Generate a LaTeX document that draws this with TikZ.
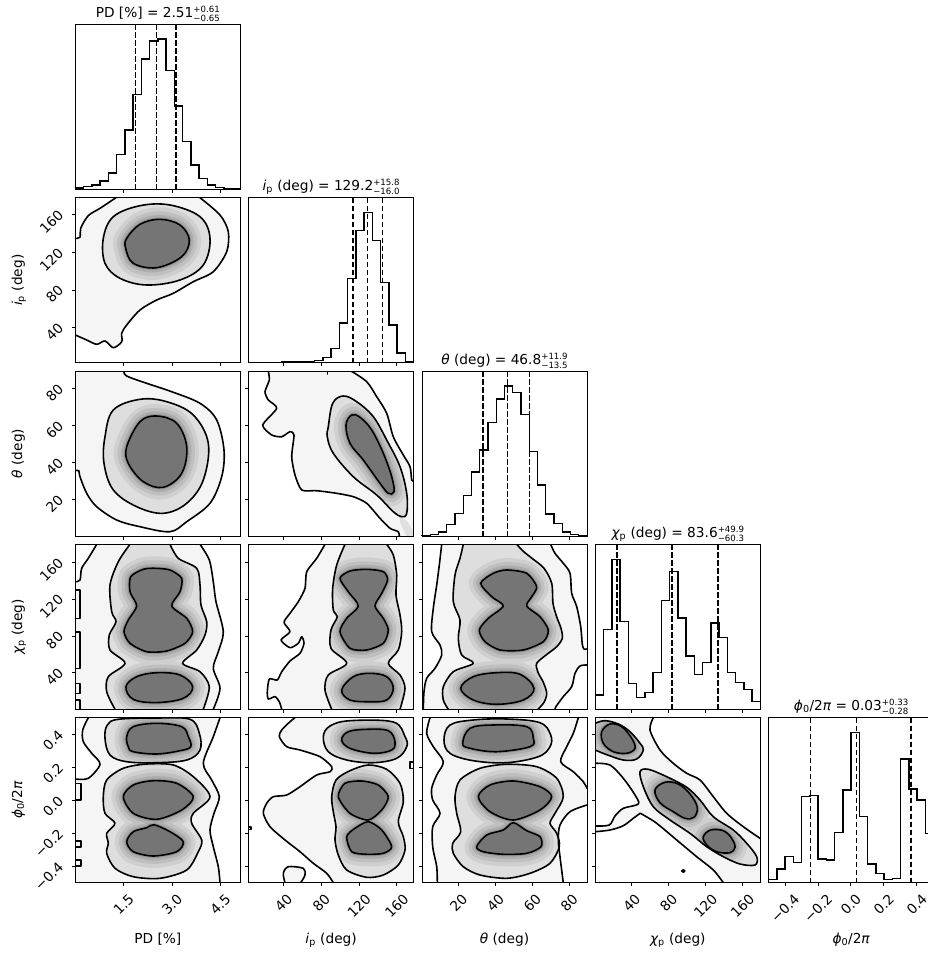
\documentclass[tikz,border=0pt]{standalone}
\usepackage{fontspec}
\setmainfont{DejaVu Sans}
\usepackage{graphicx}
\tikzset{
 cnt/.style={draw=black, line width=1.6pt, line join=round, line cap=round},
 frm/.style={draw=black, line width=1.0pt},
 hst/.style={draw=black, line width=1.4pt},
 dsh/.style={draw=black, line width=1.6pt, dash pattern=on 5.5pt off 2.5pt},
 tck/.style={draw=black, line width=1.0pt},
 lvA/.style={fill=black!4}, lvB/.style={fill=black!13}, lvC/.style={fill=black!54},
 h1/.style={draw=black!19, line width=24pt, line join=round},
 h2/.style={draw=black!25, line width=16pt, line join=round},
 h3/.style={draw=black!32, line width=9pt, line join=round},
 h4/.style={draw=black!41, line width=4pt, line join=round},
}
\newcommand\xt[1]{\foreach \t in #1 {\draw[tck] (\t,165) -- (\t,168.5);}}
\newcommand\yt[1]{\foreach \t in #1 {\draw[tck] (0,{165-\t}) -- (-3.5,{165-\t});}}
\newcommand\pframe{\draw[frm] (0,0) rectangle (165,165);}
\newcommand\hist[1]{\draw[hst] (0,165) \foreach \hh [count=\kk from 0] in {#1} { -- ({\kk*8.25},{165*(1-\hh)}) -- ({(\kk+1)*8.25},{165*(1-\hh)}) } -- (165,165);}
\newcommand\dlines[1]{\foreach \t in {#1} {\draw[dsh] (\t,0) -- (\t,165);}}
\newcommand\pmst[2]{\raisebox{-4.2pt}{\fontsize{8.6}{9}\selectfont\begin{tabular}[b]{@{}l@{}}#1\\#2\end{tabular}}}
\newcommand\dens[3]{%
 \begin{scope}\clip #1; \draw[h1] #2; \draw[h2] #2; \draw[h3] #2; \draw[h4] #2; \end{scope}
 \fill[lvC] #2;}
\newcommand\joinLR{\edef\mReg{\unexpanded\expandafter{\mL} -- \unexpanded\expandafter{\mR} -- cycle}}
\begin{document}
\begin{tikzpicture}[x=1pt,y=-1pt,every node/.style={font=\fontsize{13.7}{16}\selectfont}]
\useasboundingbox (0,0) rectangle (928,953);
\fill[white] (0,0) rectangle (928,953);
\def\PDt{48.3,96.7,145.0}
\def\IPt{35.0,72.7,110.4,148.1}
\def\THt{36.5,73.4,110.3,147.2}
\def\CHt{36.4,73.3,110.2,147.1}
\def\PHt{16.5,49.4,82.3,115.2,148.1}

% ---------------- diagonal histograms
\begin{scope}[shift={(75.3,24.3)}]
 \hist{.008,.016,.026,.05,.10,.21,.36,.575,.79,.90,.91,.72,.505,.29,.147,.066,.026,.01,.006,.004}
 \dlines{60,81,100.7}
 \pframe \xt\PDt
 \node[anchor=base] (t0) at (82.5,-7) {PD [\%] = 2.51\pmst{+0.61}{−0.65}};
\end{scope}
\begin{scope}[shift={(248.6,197.7)}]
 \hist{.002,.002,.002,.003,.004,.005,.006,.008,.012,.032,.087,.24,.51,.80,.91,.74,.485,.228,.059,.008}
 \dlines{104.1,118.7,133.7}
 \pframe \xt\IPt
 \node[anchor=base] (t1) at (82.5,-7) {{\itshape i}\textsubscript{p} (deg) = 129.2\pmst{+15.8}{−16.0}};
\end{scope}
\begin{scope}[shift={(422.0,371.0)}]
 \hist{.004,.01,.024,.071,.138,.245,.387,.522,.688,.83,.91,.87,.735,.512,.31,.134,.075,.024,.008,.004}
 \dlines{60.7,85.3,107.3}
 \pframe \xt\THt
 \node[anchor=base] (t2) at (82.5,-7) {{\itshape θ} (deg) = 46.8\pmst{+11.9}{−13.5}};
\end{scope}
\begin{scope}[shift={(595.3,544.3)}]
 \hist{.087,.482,.907,.532,.155,.071,.101,.222,.659,.835,.554,.323,.212,.282,.524,.437,.222,.161,.121,.048}
 \dlines{21.4,76.7,122.4}
 \pframe \xt\CHt
 \node[anchor=base] (t3) at (82.5,-7) {{\itshape χ}\textsubscript{p} (deg) = 83.6\pmst{+49.9}{−60.3}};
\end{scope}
\begin{scope}[shift={(768.6,717.7)}]
 \hist{.02,.083,.16,.123,.521,.529,.143,.137,.303,.561,.909,.4,.113,.057,.02,.024,.75,.568,.501,.3}
 \dlines{41.7,87.7,142.1}
 \pframe \xt\PHt
 \node[anchor=base] (t4) at (82.5,-7) {{\itshape ϕ}\textsubscript{0}/2{\itshape π} = 0.03\pmst{+0.33}{−0.28}};
 \foreach \t/\l [count=\n] in {16.5/−0.4,49.4/−0.2,82.3/0.0,115.2/0.2,148.1/0.4}
  \node[inner sep=0pt, anchor=north] (x4\n) at (\t,175.3) {\rotatebox{45}{\l}};
\end{scope}

% ---------------- row 1 : i_p vs PD
\begin{scope}[shift={(75.3,197.7)}]
 \def\oA{plot[smooth,tension=.55] coordinates {(40.7,0) (24.7,10.6) (13,18) (5.4,30.6) (4.7,39.5) (0,40.6)}}
 \def\oB{plot[smooth,tension=.5] coordinates {(124.7,0) (144.7,17.3) (153,34) (151.4,54) (138,74) (118,84) (98,95.6) (81.4,102.3) (64.7,112.3) (51.4,127.3) (46.4,135.6) (46.4,144) (38,150) (29.7,143.3) (21.4,146.6) (11.4,142.3) (0,137.3)}}
 \def\mA{plot[smooth cycle,tension=.6] coordinates {(28,40.6) (38,19) (64.7,8) (94.7,7.3) (124.7,19) (134.7,40.6) (128,67.3) (104.7,82.3) (71.4,87.3) (44.7,80.6) (29.7,65.6)}}
 \def\iA{plot[smooth cycle,tension=.6] coordinates {(51.4,40.6) (64.7,26.6) (84.7,21.6) (104.7,27.3) (114,42.3) (106.4,59) (81.4,70) (58,65.6) (50.4,50.6)}}
 \begin{scope}
  \clip (0,0) rectangle (165,165);
  \fill[lvA] (0,0) rectangle (165,165);
  \fill[white] \oA -- (0,0) -- cycle;
  \fill[white] \oB -- (0,165) -- (165,165) -- (165,0) -- cycle;
  \fill[lvB] \mA;
  \dens{\mA}{\iA}{}
  \draw[cnt] \oA; \draw[cnt] \oB; \draw[cnt] \mA; \draw[cnt] \iA;
 \end{scope}
 \pframe \xt\PDt \yt\IPt
 \foreach \t/\l [count=\n] in {35.0/40,72.7/80,110.4/120,148.1/160}
  \node[inner sep=0pt, rotate=45, anchor=east] (y1\n) at (-14.5,{163-\t}) {\l};
\end{scope}

% ---------------- row 2
\begin{scope}[shift={(75.3,371.0)}]
 \def\oA{plot[smooth,tension=.55] coordinates {(48.7,0) (51.4,5) (71.4,12.3) (96.4,20.7) (124.7,32.3) (141.4,49) (148.7,79) (146.4,105.7) (134.7,132.3) (111.4,150.7) (94.7,160.7) (64.7,155.7) (41.4,149) (21.4,135.7) (11.4,122.3) (4.7,105.7) (3.5,99.7) (0,99.7)}}
 \def\mA{plot[smooth cycle,tension=.6] coordinates {(29.7,65.7) (38,39) (64.7,28.3) (91.4,30.7) (118,44) (133,72.3) (128,109) (111.4,132.3) (88,142.3) (61.4,135.7) (38,119) (28.7,92.3)}}
 \def\iA{plot[smooth cycle,tension=.6] coordinates {(51.4,75.7) (64.7,50.7) (81.4,45) (101.4,52.3) (111.4,75.7) (106.4,102.3) (88,116.3) (68,110.7) (53,92.3)}}
 \begin{scope}
  \clip (0,0) rectangle (165,165);
  \fill[lvA] (0,0) rectangle (165,165);
  \fill[white] \oA -- (0,165) -- (165,165) -- (165,0) -- cycle;
  \fill[lvB] \mA;
  \dens{\mA}{\iA}{}
  \draw[cnt] \oA; \draw[cnt] \mA; \draw[cnt] \iA;
 \end{scope}
 \pframe \xt\PDt \yt\THt
 \foreach \t/\l [count=\n] in {36.5/20,73.4/40,110.3/60,147.2/80}
  \node[inner sep=0pt, rotate=45, anchor=east] (y2\n) at (-14.5,{163-\t}) {\l};
\end{scope}
\begin{scope}[shift={(248.6,371.0)}]
 \def\oA{plot[smooth,tension=.4] coordinates {(19.7,0) (20.7,9) (16.4,20.7) (19.7,29) (28.1,37.3) (14.1,54) (23.1,64) (33.1,65.7) (41.4,60.7) (45.4,64) (43.1,85.7) (46.4,104) (53.1,119) (68.1,119.7) (88.1,122.3) (104.7,125.7) (118.1,132.3) (131.4,147.3) (141.4,157.3) (149.7,160.7) (150.7,165)}}
 \def\oB{plot[smooth,tension=.5] coordinates {(102.4,0) (118.1,10.7) (128.1,25.7) (138.1,42.3) (144.7,65.7) (154.7,84) (161.4,95.7) (163.1,109) (165,109.7)}}
 \def\mA{plot[smooth cycle,tension=.6] coordinates {(79.7,55.7) (84.1,32.3) (94.7,25) (108.1,30.7) (124.7,45.7) (138.1,69) (151.4,95.7) (158.1,122.3) (158.1,142.3) (153.1,145.7) (144.7,140.7) (128.1,124) (104.7,105.7) (84.7,82.3) (78.7,65.7)}}
 \def\iA{plot[smooth cycle,tension=.6] coordinates {(97.4,54) (103.1,44) (111.4,46.3) (123.1,59) (134.7,82.3) (143.1,105.7) (145.4,120.7) (139.7,122.3) (131.4,112.3) (114.7,89) (101.4,72.3)}}
 \begin{scope}
  \clip (0,0) rectangle (165,165);
  \fill[lvA] (0,0) rectangle (165,165);
  \fill[white] \oA -- (0,165) -- (0,0) -- cycle;
  \fill[white] \oB -- (165,0) -- cycle;
  \fill[black!12] (150,143) -- (160,152) -- (165,161) -- (165,165) -- (158,165) -- (152,153) -- cycle;
  \fill[lvB] \mA;
  \dens{\mA}{\iA}{}
  \draw[cnt] \oA; \draw[cnt] \oB; \draw[cnt] \mA; \draw[cnt] \iA;
  \draw[cnt] (78.7,0) -- (78.7,3);
 \end{scope}
 \pframe \xt\IPt \yt\THt
\end{scope}

% ---------------- row 3
\begin{scope}[shift={(75.3,544.3)}]
 \def\oA{plot[smooth,tension=.55] coordinates {(21.4,0) (13,14) (6.4,24) (4.7,35.7) (0,37.4)}}
 \def\oB{plot[smooth,tension=.5] coordinates {(124.7,0) (134,15.7) (138,37.4) (140.7,57.4) (148,87.4) (143,107.4) (138,124) (144.7,144) (138,165)}}
 \def\mL{plot[smooth,tension=.5] coordinates {(54.7,0) (43,17.4) (34.7,40.7) (36.4,67.4) (40.7,77.4) (34,90.7) (34.7,105.7) (49.7,119) (33,132.4) (31.4,147.4) (39.7,165)}}
 \def\mR{plot[smooth,tension=.5] coordinates {(128,165) (134,142.4) (124.7,127.4) (107.4,119) (121.4,105.7) (129.7,90.7) (131.4,77.4) (125.7,60.7) (124.7,40.7) (121.4,24) (103,14) (94.7,0)}}
 \joinLR
 \def\iA{plot[smooth cycle,tension=.45] coordinates {(55.4,32.4) (68,25) (79.7,24) (94.7,25.7) (106.4,34) (104.7,47.4) (96.4,61.7) (111.4,74) (117.4,87.4) (109.7,99) (91.4,106.7) (71.4,107.4) (54.7,99) (48.7,87.4) (53,75.7) (61.4,61.7) (54.7,47.4)}}
 \def\iB{plot[smooth cycle,tension=.6] coordinates {(50.7,142.4) (61.4,132.4) (81.4,128.4) (104.7,130.7) (117.4,142.4) (108,154) (81.4,158.3) (58,155)}}
 \begin{scope}
  \clip (0,0) rectangle (165,165);
  \fill[lvA] (0,0) rectangle (165,165);
  \fill[white] \oA -- (0,0) -- cycle;
  \fill[white] \oB -- (165,165) -- (165,0) -- cycle;
  \fill[lvB] \mReg;
  \dens{\mReg}{\iA \iB}{}
  \draw[cnt] \oA; \draw[cnt] \oB; \draw[cnt] \mL; \draw[cnt] \mR; \draw[cnt] \iA; \draw[cnt] \iB;
  \draw[cnt] (0,45.7) -- (4.7,45.7) -- (4.7,74) -- (0,74);
  \draw[cnt] (0,87.4) -- (4.7,87.4) -- (4.7,124) -- (0,124);
  \draw[cnt] (0,139) -- (4.7,139) -- (4.7,149) -- (0,149);
  \draw[cnt] (0,155.7) -- (4.7,155.7) -- (4.7,165);
 \end{scope}
 \pframe \xt\PDt \yt\CHt
 \foreach \t/\l [count=\n] in {36.4/40,73.3/80,110.2/120,147.1/160}
  \node[inner sep=0pt, rotate=45, anchor=east] (y3\n) at (-14.5,{163-\t}) {\l};
\end{scope}
\begin{scope}[shift={(248.6,544.3)}]
 \def\oA{plot[smooth,tension=.4] coordinates {(76.4,0) (68.1,14) (58.1,27.4) (56.4,44) (49.7,57.4) (41.4,69) (35.4,78) (41.4,87.4) (32.4,95.7) (41.4,103.4) (49.7,99) (53.1,92.4) (55.4,99) (51.4,109) (41.4,116.7) (33.1,127.4) (28.7,135.7) (20.7,134.7) (18.7,147.4) (19.7,154.7) (26.4,152.4) (30.7,157.4) (33.1,165)}}
 \def\mL{plot[smooth,tension=.5] coordinates {(96.4,0) (88.1,20.7) (84.1,44) (84.7,65.7) (88.7,72.4) (82.4,85.7) (82.4,104) (98.1,119) (79.7,130.7) (76.4,145.7) (83.1,165)}}
 \def\mR{plot[smooth,tension=.5] coordinates {(151.4,165) (156.4,144) (151.4,130.7) (139.7,119) (149.7,105.7) (153.1,87.4) (151.4,70.7) (147.4,50.7) (148.1,30.7) (144.7,10.7) (138.1,0)}}
 \joinLR
 \def\iA{plot[smooth cycle,tension=.45] coordinates {(91.4,34) (101.4,26.7) (118.1,25) (134.7,27.4) (139,35.7) (133.1,49) (126.4,61.7) (134.7,74) (139.7,85.7) (134.7,99) (118.1,105.7) (101.4,104) (91.4,87.4) (98.1,74) (109.7,61.7) (99.7,47.4)}}
 \def\iB{plot[smooth cycle,tension=.6] coordinates {(93.1,145.7) (104.7,132.4) (121.4,129) (138.1,132.4) (144.7,144) (138.1,155.7) (121.4,157.4) (101.4,155.7)}}
 \begin{scope}
  \clip (0,0) rectangle (165,165);
  \fill[lvA] (0,0) rectangle (165,165);
  \fill[white] \oA -- (0,165) -- (0,0) -- cycle;
  \fill[lvB] \mReg;
  \dens{\mReg}{\iA \iB}{}
  \draw[cnt] \oA; \draw[cnt] \mL; \draw[cnt] \mR; \draw[cnt] \iA; \draw[cnt] \iB;
 \end{scope}
 \pframe \xt\IPt \yt\CHt
\end{scope}
\begin{scope}[shift={(422.0,544.3)}]
 \def\oA{plot[smooth,tension=.5] coordinates {(19.7,0) (17.3,20.7) (14.7,40.7) (11.3,64) (9.7,87.4) (18,100.7) (19.7,110.7) (13,124) (4.7,134) (2,147.4) (1.3,165)}}
 \def\oB{plot[smooth,tension=.5] coordinates {(128.7,0) (133,9) (141.3,19) (148,29) (149.7,49) (154.7,62.3) (158.7,82.3) (160.3,100) (162,104.7) (165,104.7)}}
 \def\oC{plot[smooth,tension=.5] coordinates {(165,120.7) (158,121.7) (153,129) (149.7,142.3) (141.3,152.3) (134,162.3) (133,165)}}
 \def\mL{plot[smooth,tension=.5] coordinates {(41.3,0) (38,14) (33,30.7) (31.3,57.4) (38,75.7) (36.3,94) (39.7,110.7) (51.3,119) (31.3,127.4) (21.3,142.4) (21.3,155.7) (26.3,165)}}
 \def\mR{plot[smooth,tension=.5] coordinates {(116,165) (122,158) (124.7,149) (121.3,138) (116,128) (114.7,119) (125,110) (134.7,102.4) (140.3,94) (139,84) (134.5,72) (131,59) (129.7,39) (122,24) (110,14) (101.3,7) (94.7,0)}}
 \joinLR
 \def\iA{plot[smooth cycle,tension=.45] coordinates {(58.7,39) (71.3,29) (84.7,25.7) (104.7,29) (114.7,42.4) (109.7,52.4) (104.7,61.7) (118,72.4) (126.3,85.7) (121.3,97.4) (101.3,105.7) (78,105.7) (63,97.4) (57.3,85.7) (66.3,74) (81.3,61.7) (69.7,52.4)}}
 \def\iB{plot[smooth cycle,tension=.6] coordinates {(38.7,144) (51.3,132.4) (74.7,128.4) (98,130) (112,144) (101.3,155.7) (74.7,160) (51.3,155.7)}}
 \begin{scope}
  \clip (0,0) rectangle (165,165);
  \fill[lvA] (0,0) rectangle (165,165);
  \fill[white] \oA -- (0,165) -- (0,0) -- cycle;
  \fill[white] \oB -- (165,0) -- cycle;
  \fill[white] \oC -- (165,165) -- cycle;
  \fill[lvB] \mReg;
  \dens{\mReg}{\iA \iB}{}
  \draw[cnt] \oA; \draw[cnt] \oB; \draw[cnt] \oC; \draw[cnt] \mL; \draw[cnt] \mR; \draw[cnt] \iA; \draw[cnt] \iB;
 \end{scope}
 \pframe \xt\THt \yt\CHt
\end{scope}

% ---------------- row 4
\begin{scope}[shift={(75.3,717.7)}]
 \def\oA{plot[smooth,tension=.5] coordinates {(13,0) (7.4,12.3) (8,24) (16.4,35.6) (24.7,46.6) (13,60.6) (0,61.3)}}
 \def\oB{plot[smooth,tension=.5] coordinates {(144.7,0) (138,19) (128,45.6) (136.4,62.3) (144,79) (138.7,95.6) (134.7,112.3) (138,129) (143,149) (144.7,165)}}
 \def\mA{plot[smooth cycle,tension=.6] coordinates {(29.7,20.6) (32,7.3) (43,1.6) (81.4,0.3) (114.7,1.6) (124,15.6) (124.7,32.3) (111.4,42.3) (81.4,45) (51.4,44) (34.7,37.3)}}
 \def\mB{plot[smooth cycle,tension=.5] coordinates {(28,79) (31.4,62.3) (48,50.6) (71.4,46.3) (98,47.3) (118,59) (134.7,79) (118,95.6) (116.4,105.6) (126.4,122.3) (123,134) (111.4,152.3) (84.7,160.6) (58,159) (39.7,150.6) (31.4,135.6) (33,125.6) (31.4,115.6) (39.7,105.6) (29.7,95.6)}}
 \def\iA{plot[smooth cycle,tension=.6] coordinates {(51.4,19) (58,9) (81.4,5.6) (106.4,9) (113,19) (115.4,29) (104.7,33) (81.4,36.3) (58,34) (53,29)}}
 \def\iB{plot[smooth cycle,tension=.5] coordinates {(48,79) (58,67.3) (78,63) (101.4,65.6) (118,79) (106.4,92.3) (81.4,101.6) (58,95.6)}}
 \def\iC{plot[smooth cycle,tension=.5] coordinates {(51.4,124) (58,114) (71.4,110) (78.7,107) (94.7,114) (108,124) (101.4,134) (78,138.3) (58,134)}}
 \begin{scope}
  \clip (0,0) rectangle (165,165);
  \fill[lvA] (0,0) rectangle (165,165);
  \fill[white] \oA -- (0,0) -- cycle;
  \fill[white] \oB -- (165,165) -- (165,0) -- cycle;
  \fill[lvB] \mA \mB;
  \dens{\mA \mB}{\iA \iB \iC}{}
  \draw[cnt] \oA; \draw[cnt] \oB; \draw[cnt] \mA; \draw[cnt] \mB; \draw[cnt] \iA; \draw[cnt] \iB; \draw[cnt] \iC;
  \draw[cnt] (0,65.6) -- (5.4,65.6) -- (5.4,82.3) -- (0,82.3);
  \draw[cnt] (0,123) -- (5.4,123) -- (5.4,129) -- (0,129);
  \draw[cnt] (0,142.3) -- (5.4,142.3) -- (5.4,148) -- (0,148);
 \end{scope}
 \pframe \xt\PDt \yt\PHt
 \foreach \t/\l [count=\n] in {16.5/−0.4,49.4/−0.2,82.3/0.0,115.2/0.2,148.1/0.4}
  \node[inner sep=0pt, rotate=45, anchor=east] (y4\n) at (-14.5,{163-\t}) {\l};
 \foreach \t/\l [count=\n] in {48.3/1.5,96.7/3.0,145.0/4.5}
  \node[inner sep=0pt, anchor=north] (x0\n) at (\t,175.3) {\rotatebox{45}{\l}};
\end{scope}
\begin{scope}[shift={(248.6,717.7)}]
 \def\oA{plot[smooth,tension=.45] coordinates {(46.4,0) (41.4,4) (33.1,12.3) (30.7,19) (38.1,29) (51.4,32.3) (71.4,39) (83.1,49) (81.4,54) (68.1,57.3) (51.4,69) (38.1,77.3) (24.7,79) (18.1,85.6) (14.7,95.6) (21.4,109) (36.4,122.3) (51.4,134) (64.7,145.6) (78.1,155.6) (84.7,165)}}
 \def\oC{plot[smooth,tension=.5] coordinates {(36.4,165) (34.7,155.6) (39.7,149) (54.7,150.6) (56.4,157.3) (52.1,165)}}
 \def\mA{plot[smooth cycle,tension=.6] coordinates {(74.7,19) (81.4,8.3) (101.4,3) (144.7,4.3) (156.4,19) (158.1,29) (148.1,40.6) (124.7,45) (98.1,42.3) (79.7,34)}}
 \def\mB{plot[smooth cycle,tension=.5] coordinates {(83.1,79) (87.4,62.3) (101.4,53) (119.7,47.3) (138.1,51.6) (151.4,65.6) (154.7,84) (149.7,104) (154.7,119) (156.4,132.3) (149.7,147.3) (134.7,157.3) (118.1,159.6) (98.1,152.3) (89.7,137.3) (86.4,122.3) (87.4,109) (84.7,94)}}
 \def\iA{plot[smooth cycle,tension=.6] coordinates {(93.1,22.3) (99.7,14) (118.1,11.6) (139.7,13) (146.4,24) (143.1,32.3) (124.7,35.6) (101.4,30.6)}}
 \def\iB{plot[smooth cycle,tension=.45] coordinates {(89.7,79) (96.4,65.6) (113.1,63.3) (129.7,67.3) (139.7,79) (133.1,92.3) (119.7,102.3) (101.4,95.6)}}
 \def\iC{plot[smooth cycle,tension=.45] coordinates {(98.1,119) (106.4,110.6) (119.7,104) (133.1,112.3) (143.1,129) (134.7,135.6) (118.1,136.6) (103.1,134)}}
 \begin{scope}
  \clip (0,0) rectangle (165,165);
  \fill[lvA] (0,0) rectangle (165,165);
  \fill[white] \oA -- (0,165) -- (0,0) -- cycle;
  \fill[lvA] \oC -- cycle;
  \fill[lvB] \mA \mB;
  \dens{\mA \mB}{\iA \iB \iC}{}
  \draw[cnt] \oA; \draw[cnt] \oC; \draw[cnt] \mA; \draw[cnt] \mB; \draw[cnt] \iA; \draw[cnt] \iB; \draw[cnt] \iC;
  \draw[cnt] (165,44) -- (161.4,44) -- (161.4,50.6) -- (165,50.6);
  \draw[cnt] (0,109.4) -- (2.6,109.4) -- (2.6,111.8) -- (0,111.8);
 \end{scope}
 \pframe \xt\IPt \yt\PHt
 \foreach \t/\l [count=\n] in {35.0/40,72.7/80,110.4/120,148.1/160}
  \node[inner sep=0pt, anchor=north] (x1\n) at (\t,175.3) {\rotatebox{45}{\l}};
\end{scope}
\begin{scope}[shift={(422.0,717.7)}]
 \def\oA{plot[smooth,tension=.5] coordinates {(8,0) (4.7,15.6) (11.3,29) (21.3,44) (14.7,57.3) (9.7,70.6) (10.7,82.3) (18,95.6) (10.7,109) (10.7,129) (14.7,149) (15.3,165)}}
 \def\oB{plot[smooth,tension=.5] coordinates {(156.3,0) (151.3,15.6) (144.7,29) (138.7,44) (151.3,54) (161.3,64) (165,70.6)}}
 \def\oC{plot[smooth,tension=.5] coordinates {(165,87.3) (148,94) (138,107.3) (136.3,122.3) (138,139) (141.3,165)}}
 \def\mA{plot[smooth cycle,tension=.6] coordinates {(22,22.3) (28,7.3) (51.3,2.3) (84.7,1.3) (118,5) (128.7,17.3) (128,29) (116.3,39) (84.7,45) (51.3,43) (28,35.6)}}
 \def\mB{plot[smooth cycle,tension=.5] coordinates {(33,79) (38,62.3) (58,50.6) (84.7,46.6) (114.7,49) (134.7,60.6) (141.3,79) (133,95.6) (128,105.6) (134.7,115.6) (137.3,129) (128,145.6) (108,155.6) (84.7,160.6) (58,157.3) (41.3,149) (31.3,135.6) (30.7,125.6) (38.7,114) (34.7,95.6)}}
 \def\iA{plot[smooth cycle,tension=.6] coordinates {(40.7,25.6) (48,10.6) (71.3,7.3) (104.7,9) (111.3,20.6) (108,29) (74.7,34) (48,30.6)}}
 \def\iB{plot[smooth cycle,tension=.5] coordinates {(56.3,79) (68,67.3) (91.3,63.3) (118,69) (129.7,79) (118,92.3) (91.3,102.3) (68,94)}}
 \def\iC{plot[smooth cycle,tension=.5] coordinates {(54.7,129) (64.7,117.3) (81.3,112.3) (91.3,105) (104.7,113) (118,119) (119,129) (104.7,135.6) (81.3,136.6) (61.3,134)}}
 \begin{scope}
  \clip (0,0) rectangle (165,165);
  \fill[lvA] (0,0) rectangle (165,165);
  \fill[white] \oA -- (0,165) -- (0,0) -- cycle;
  \fill[white] \oB -- (165,0) -- cycle;
  \fill[white] \oC -- (165,165) -- cycle;
  \fill[lvB] \mA \mB;
  \dens{\mA \mB}{\iA \iB \iC}{}
  \draw[cnt] \oA; \draw[cnt] \oB; \draw[cnt] \oC; \draw[cnt] \mA; \draw[cnt] \mB; \draw[cnt] \iA; \draw[cnt] \iB; \draw[cnt] \iC;
 \end{scope}
 \pframe \xt\THt \yt\PHt
 \foreach \t/\l [count=\n] in {36.5/20,73.4/40,110.3/60,147.2/80}
  \node[inner sep=0pt, anchor=north] (x2\n) at (\t,175.3) {\rotatebox{45}{\l}};
\end{scope}
\begin{scope}[shift={(595.3,717.7)}]
 \def\oA{plot[smooth,tension=.5] coordinates {(0,45.6) (14.7,47.3) (28,60.6) (39.7,77.3) (43,86.3) (28,90.6) (19.7,98.3) (14,107.3) (0,108.3)}}
 \def\oB{plot[smooth,tension=.5] coordinates {(0,114) (14.7,112.3) (28,108) (38,100.6) (45,95.5)} -- plot[smooth,tension=.5] coordinates {(45,95.5) (52,99.6) (61.4,105.6) (81.4,122.3) (101.4,139) (118,152.3) (128,165)}}
 \def\oC{plot[smooth,tension=.5] coordinates {(58,0) (54.7,12.3) (64.7,32.3) (78,45.6) (91.4,55.6) (104.7,62.3) (118,79) (131.4,95.6) (148,109) (165,120.8)}}
 \def\mA{plot[smooth,tension=.6] coordinates {(0,32.3) (9.7,36.3) (28,42.3) (41.4,41.3) (48,32.3) (44.7,25.6) (34.7,14) (23,6.3) (9.7,3) (0,5.6)}}
 \def\mB{plot[smooth cycle,tension=.55] coordinates {(44.7,54) (53,51.6) (71.4,59) (91.4,69.6) (104.7,82.3) (118,99) (138,112.3) (151.4,125.6) (161.4,139) (159.7,147.3) (144.7,146.3) (128,139) (111.4,129) (94.7,115.6) (74.7,102.3) (58,89) (48,69)}}
 \def\iA{plot[smooth cycle,tension=.6] coordinates {(6.4,14) (14.7,6.3) (26.4,9) (36.4,20.6) (39.7,30.6) (31.4,35.6) (18,34) (8,25.6)}}
 \def\iB{plot[smooth cycle,tension=.6] coordinates {(59.7,72.3) (69.7,64.6) (83,66.3) (94.7,76.3) (102,89.6) (98.7,99.6) (89.7,100.6) (78,94) (64.7,85)}}
 \def\iC{plot[smooth cycle,tension=.6] coordinates {(108,119) (115.4,112.3) (128,113) (136.4,120.6) (139.7,129.6) (134.7,135) (121.4,134) (111.4,127.3)}}
 \begin{scope}
  \clip (0,0) rectangle (165,165);
  \fill[lvA] (0,0) rectangle (165,165);
  \fill[white] \oA -- cycle;
  \fill[white] \oB -- (0,165) -- cycle;
  \fill[white] \oC -- (165,0) -- cycle;
  \fill[lvB] \mA -- cycle \mB;
  \dens{\mA -- cycle \mB}{\iA \iB \iC}{}
  \draw[cnt] \oA; \draw[cnt] \oB; \draw[cnt] \oC; \draw[cnt] \mA; \draw[cnt] \mB; \draw[cnt] \iA; \draw[cnt] \iB; \draw[cnt] \iC;
  \draw[cnt] (86.5,153.3) -- (88,152) -- (89.5,153.3) -- (88,154.6) -- cycle;
 \end{scope}
 \pframe \xt\CHt \yt\PHt
 \foreach \t/\l [count=\n] in {36.4/40,73.3/80,110.2/120,147.1/160}
  \node[inner sep=0pt, anchor=north] (x3\n) at (\t,175.3) {\rotatebox{45}{\l}};
\end{scope}

% ---------------- axis labels
\node[anchor=base] (xl0) at (157.8,943) {PD [\%]};
\node[anchor=base] (xl1) at (331.1,943) {{\itshape i}\textsubscript{p} (deg)};
\node[anchor=base] (xl2) at (504.5,943) {{\itshape θ} (deg)};
\node[anchor=base] (xl3) at (677.8,943) {{\itshape χ}\textsubscript{p} (deg)};
\node[anchor=base] (xl4) at (851.1,943) {{\itshape ϕ}\textsubscript{0}/2{\itshape π}};
\node[rotate=90, anchor=base] (yl1) at (22,280.2) {{\itshape i}\textsubscript{p} (deg)};
\node[rotate=90, anchor=base] (yl2) at (22,453.5) {{\itshape θ} (deg)};
\node[rotate=90, anchor=base] (yl3) at (22,626.8) {{\itshape χ}\textsubscript{p} (deg)};
\node[rotate=90, anchor=base] (yl4) at (22,800.2) {{\itshape ϕ}\textsubscript{0}/2{\itshape π}};
\end{tikzpicture}
\end{document}
